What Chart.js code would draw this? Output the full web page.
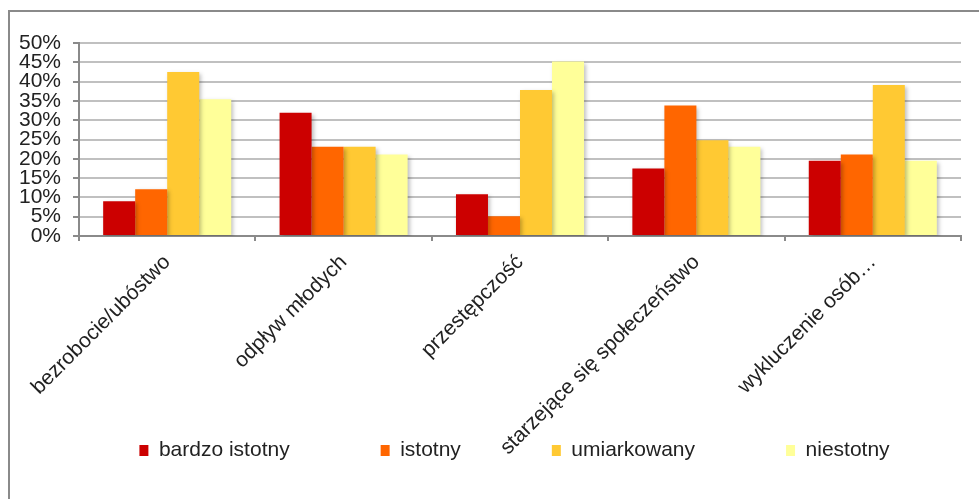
<!DOCTYPE html>
<html lang="pl">
<head>
<meta charset="utf-8">
<title>Problemy społeczne</title>
<script src="https://cdn.jsdelivr.net/npm/chart.js@4.4.0/dist/chart.umd.min.js"></script>
<style>
  html, body { margin: 0; padding: 0; background: #fff; overflow: hidden; }
  #ramka { position: absolute; left: 8px; top: 10px; width: 1000px; height: 600px; border: 2px solid #8a8a8a; }
  #wrap { position: absolute; left: 0; top: 0; width: 979px; height: 499px; }
</style>
</head>
<body>
<div id="ramka"></div>
<div id="wrap"><canvas id="wykres"></canvas></div>
<script>
const kategorie = [
  "bezrobocie/ubóstwo",
  "odpływ młodych",
  "przestępczość",
  "starzejące się społeczeństwo",
  "wykluczenie osób…"
];
const bardzoIstotny = [9.0, 31.9, 10.8, 17.5, 19.5];
const istotny = [12.1, 23.1, 5.1, 33.8, 21.1];
const umiarkowany = [42.5, 23.1, 37.8, 24.8, 39.1];
const niestotny = [35.4, 21.1, 45.2, 23.1, 19.5];
const nazwySerii = ["bardzo istotny", "istotny", "umiarkowany", "niestotny"];
const kolory = ["#cc0000", "#ff6600", "#ffc933", "#ffff99"];

const czcionka = { family: "Liberation Sans, Arial, sans-serif", size: 21 };

// legenda nachodzi na podpisy osi, jak w oryginale
const ukladPoprawki = {
  id: "ukladPoprawki",
  afterLayout(chart) {
    chart.legend.left += 34;
    chart.legend.right += 34;
    // podpisy osi X nie mogą być ucinane przez legendę
    chart.scales.x.bottom = chart.height;
  }
};

// delikatny cień pod słupkami
const cienSlupkow = {
  id: "cienSlupkow",
  beforeDatasetsDraw(chart) {
    const ctx = chart.ctx;
    ctx.save();
    ctx.shadowColor = "rgba(0,0,0,0.25)";
    ctx.shadowBlur = 4;
    ctx.shadowOffsetX = 2;
    ctx.shadowOffsetY = 2;
  },
  afterDatasetsDraw(chart) {
    chart.ctx.restore();
  }
};

const serie = [bardzoIstotny, istotny, umiarkowany, niestotny];

new Chart(document.getElementById("wykres"), {
  type: "bar",
  data: {
    labels: kategorie,
    datasets: serie.map((dane, i) => ({
      label: nazwySerii[i],
      data: dane,
      backgroundColor: kolory[i],
      borderWidth: 0,
      categoryPercentage: 0.726,
      barPercentage: 1.0
    }))
  },
  options: {
    responsive: true,
    maintainAspectRatio: false,
    animation: false,
    layout: { padding: { left: 0, right: 18, top: 43, bottom: 28 } },
    plugins: {
      tooltip: { enabled: false },
      legend: {
        position: "bottom",
        labels: {
          boxWidth: 9,
          boxHeight: 11,
          padding: 91,
          color: "#222",
          font: czcionka
        }
      }
    },
    scales: {
      x: {
        afterFit(scale) { scale.height = 113; },
        border: { color: "#8a8a8a", width: 2 },
        grid: {
          offset: true,
          lineWidth: 2,
          tickLength: 5,
          tickColor: "#8a8a8a",
          color: (c) => (c.index === kategorie.length ? "#d4d4d4" : "rgba(0,0,0,0)")
        },
        ticks: {
          autoSkip: false,
          minRotation: 45,
          maxRotation: 45,
          padding: 9,
          color: "#222",
          font: czcionka
        }
      },
      y: {
        min: 0,
        max: 50,
        afterFit(scale) { scale.width = 79; },
        border: { color: "#8a8a8a", width: 2 },
        grid: {
          lineWidth: 2,
          tickLength: 6,
          tickColor: "#8a8a8a",
          color: "#c0c0c0"
        },
        ticks: {
          stepSize: 5,
          autoSkip: false,
          padding: 12,
          color: "#222",
          font: czcionka,
          callback: (v) => v + "%"
        }
      }
    }
  },
  plugins: [ukladPoprawki, cienSlupkow]
});
</script>
</body>
</html>
